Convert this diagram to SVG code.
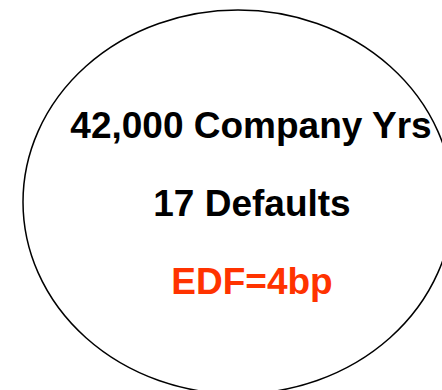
<svg xmlns="http://www.w3.org/2000/svg" width="442" height="390" viewBox="0 0 442 390">
  <style>
    .lbl { font-family: "Liberation Sans", Arial, sans-serif; font-weight: bold; font-size: 37px; text-anchor: middle; }
    .dark { fill: #000000; }
    .hot { fill: #FF3300; }
  </style>
  <rect width="442" height="390" fill="#ffffff"/>
  <g id="sample">
    <ellipse cx="238" cy="202" rx="215" ry="192" fill="none" stroke="#000000" stroke-width="1.5"/>
    <text class="lbl dark" x="251" y="138">42,000 Company Yrs</text>
    <text class="lbl dark" x="252" y="216">17 Defaults</text>
    <text class="lbl hot" x="252" y="294">EDF=4bp</text>
  </g>
</svg>
